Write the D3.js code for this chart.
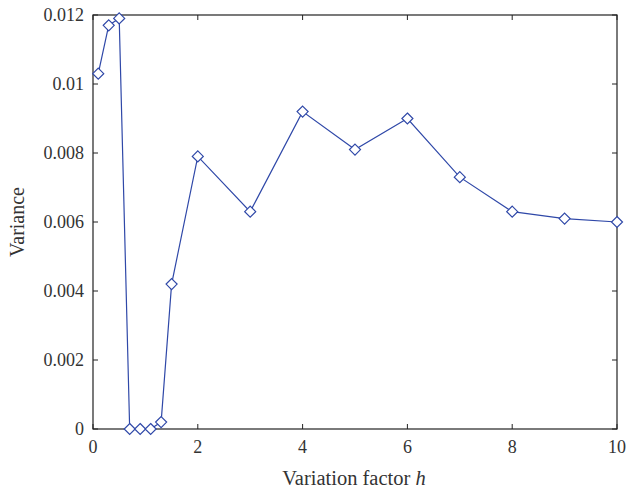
<!DOCTYPE html>
<html>
<head>
<meta charset="utf-8">
<script src="https://cdn.jsdelivr.net/npm/d3@7"></script>
<style>
  html, body { margin: 0; padding: 0; background: #fff; }
  svg { display: block; }
  text { font-family: "Liberation Serif", "DejaVu Serif", serif; fill: #333; }
</style>
</head>
<body>
<svg id="chart" width="628" height="492"></svg>
<script>
// Variation factor h and the resulting variance
const factors = [0.1, 0.3, 0.5, 0.7, 0.9, 1.1, 1.3, 1.5, 2, 3, 4, 5, 6, 7, 8, 9, 10];
const variances = [0.0103, 0.0117, 0.0119, 0, 0, 0, 0.0002, 0.0042, 0.0079, 0.0063, 0.0092, 0.0081, 0.0090, 0.0073, 0.0063, 0.0061, 0.0060];
const xTicks = [0, 2, 4, 6, 8, 10];
const yTicks = [0, 0.002, 0.004, 0.006, 0.008, 0.01, 0.012];
const yTickLabels = ["0", "0.002", "0.004", "0.006", "0.008", "0.01", "0.012"];

const margin = { left: 93, right: 11, top: 15, bottom: 63 };
const W = 628, H = 492;
const svg = d3.select("#chart");

const x = d3.scaleLinear().domain([0, 10]).range([margin.left, W - margin.right]);
const y = d3.scaleLinear().domain([0, 0.012]).range([H - margin.bottom, margin.top]);

const lineColor = "#2f48a8";
const axisColor = "#222";
const tickLen = 5;

// Frame
svg.append("rect")
  .attr("x", x(0)).attr("y", y(0.012))
  .attr("width", x(10) - x(0)).attr("height", y(0) - y(0.012))
  .attr("fill", "none").attr("stroke", axisColor).attr("stroke-width", 1.2);

// Inward ticks on all four sides
const g = svg.append("g").attr("stroke", axisColor).attr("stroke-width", 1);
xTicks.forEach(t => {
  g.append("line").attr("x1", x(t)).attr("x2", x(t)).attr("y1", y(0)).attr("y2", y(0) - tickLen);
  g.append("line").attr("x1", x(t)).attr("x2", x(t)).attr("y1", y(0.012)).attr("y2", y(0.012) + tickLen);
});
yTicks.forEach(t => {
  g.append("line").attr("x1", x(0)).attr("x2", x(0) + tickLen).attr("y1", y(t)).attr("y2", y(t));
  g.append("line").attr("x1", x(10)).attr("x2", x(10) - tickLen).attr("y1", y(t)).attr("y2", y(t));
});

// Tick labels
svg.append("g").selectAll("text").data(xTicks).join("text")
  .attr("x", d => x(d)).attr("y", y(0) + 24)
  .attr("text-anchor", "middle").attr("font-size", 18)
  .text(d => d);
svg.append("g").selectAll("text").data(yTicks).join("text")
  .attr("x", x(0) - 9).attr("y", d => y(d) + 6)
  .attr("text-anchor", "end").attr("font-size", 18)
  .text((d, i) => yTickLabels[i]);

// Axis titles
const xt = svg.append("text")
  .attr("x", 354).attr("y", 485)
  .attr("text-anchor", "middle").attr("font-size", 20.5);
xt.append("tspan").text("Variation factor ");
xt.append("tspan").attr("font-style", "italic").text("h");

svg.append("text")
  .attr("transform", `translate(24, ${(y(0) + y(0.012)) / 2}) rotate(-90)`)
  .attr("text-anchor", "middle").attr("font-size", 20)
  .text("Variance");

// Series line
const pts = factors.map((f, i) => [f, variances[i]]);
svg.append("path")
  .datum(pts)
  .attr("fill", "none").attr("stroke", lineColor).attr("stroke-width", 1.2)
  .attr("d", d3.line().x(d => x(d[0])).y(d => y(d[1])));

// Diamond markers
const s = 5.5;
svg.append("g").selectAll("path").data(pts).join("path")
  .attr("d", d => `M${x(d[0])},${y(d[1]) - s}L${x(d[0]) + s},${y(d[1])}L${x(d[0])},${y(d[1]) + s}L${x(d[0]) - s},${y(d[1])}Z`)
  .attr("fill", "#fff").attr("stroke", lineColor).attr("stroke-width", 1.2);
</script>
</body>
</html>
